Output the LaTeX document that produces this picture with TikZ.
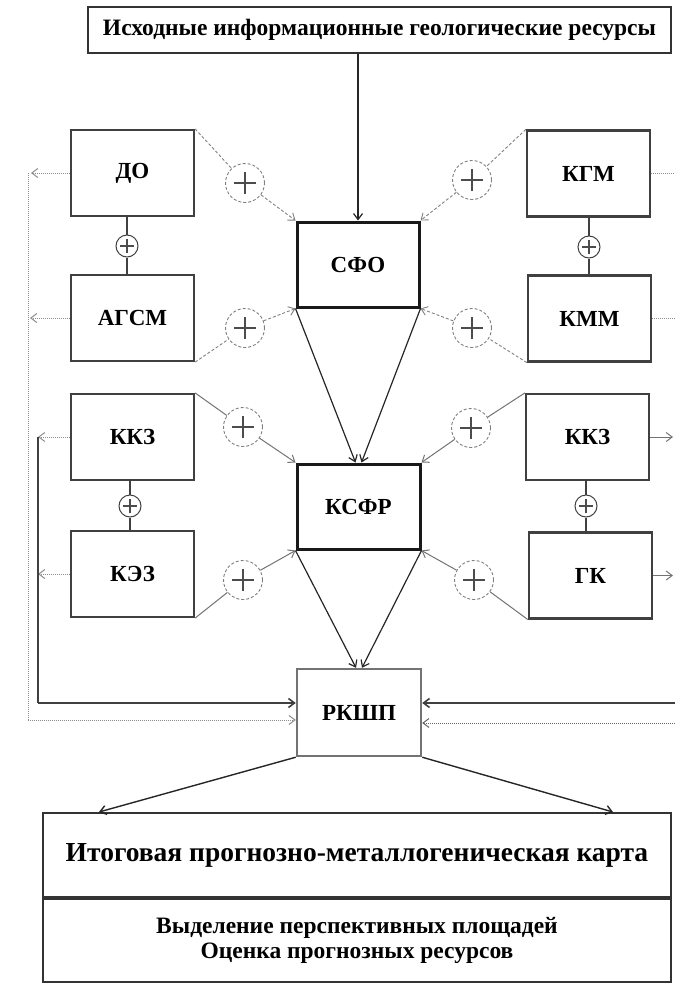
\documentclass[tikz,border=0pt]{standalone}
\usepackage{fontspec}
\setmainfont{Liberation Serif}
\usetikzlibrary{arrows.meta}

\tikzset{
  tip/.style={-{Straight Barb[length=6pt,width=9pt]}},
  blk/.style={draw=black!75, line width=2.2pt, minimum width=123pt, minimum height=86pt,
    inner sep=0pt, font=\bfseries\fontsize{23}{27}\selectfont},
  mainblk/.style={blk, draw=black!90, line width=3pt},
  wideblk/.style={draw=black!80, line width=1.8pt, inner sep=0pt},
  plusmark/.style={path picture={\draw[solid, black!70, line width=1.3pt]
    ([xshift=-#1]path picture bounding box.center) -- ([xshift=#1]path picture bounding box.center)
    ([yshift=-#1]path picture bounding box.center) -- ([yshift=#1]path picture bounding box.center);}},
  sumbig/.style={circle, draw=black!50, densely dashed, line width=0.9pt, minimum size=39pt,
    inner sep=0pt, plusmark=11pt},
  sumsmall/.style={circle, draw=black!75, line width=1pt, minimum size=22pt, inner sep=0pt,
    plusmark=7pt},
  link/.style={black!50, densely dashed, line width=0.9pt},
  linkb/.style={black!55, line width=1pt},
  bond/.style={black!75, line width=1.2pt},
  flow/.style={black!85, line width=1.2pt, tip},
  fbdot/.style={black!45, densely dotted, line width=1pt},
  fbline/.style={black!75, line width=1.6pt},
}

\begin{document}
\begin{tikzpicture}[x=1pt,y=-1pt]
\useasboundingbox (0,0) rectangle (675,983);

\node[wideblk, minimum width=583pt, minimum height=46pt, font=\bfseries\fontsize{23.5}{27}\selectfont] (src) at (379.5,30) {Исходные информационные геологические ресурсы};

\node[blk] (do) at (132.5,173) {ДО};
\node[blk] (agsm) at (132.5,318) {АГСМ};
\node[blk] (kkzl) at (132.5,437) {ККЗ};
\node[blk] (kez) at (132.5,574) {КЭЗ};
\node[blk] (kgm) at (588.5,173.5) {КГМ};
\node[blk] (kmm) at (589.5,318.5) {КММ};
\node[blk] (kkzr) at (587.5,437) {ККЗ};
\node[blk] (gk) at (590.5,575.5) {ГК};

\node[mainblk, minimum width=122pt, minimum height=85pt] (sfo) at (358,264.5) {СФО};
\node[mainblk, minimum height=85pt] (ksfr) at (358.5,506.5) {КСФР};
\node[blk, draw=black!55, line width=2.4pt, minimum width=124pt, minimum height=87pt] (rkshp) at (359,712.5) {РКШП};

\node[sumsmall] (p1) at (127,246) {};
\node[sumsmall] (p2) at (589,247) {};
\node[sumsmall] (p3) at (130,506) {};
\node[sumsmall] (p4) at (586,506) {};
\draw[bond] (p1) -- (p1 |- do.south);
\draw[bond] (p1) -- (p1 |- agsm.north);
\draw[bond] (p2) -- (p2 |- kgm.south);
\draw[bond] (p2) -- (p2 |- kmm.north);
\draw[bond] (p3) -- (p3 |- kkzl.south);
\draw[bond] (p3) -- (p3 |- kez.north);
\draw[bond] (p4) -- (p4 |- kkzr.south);
\draw[bond] (p4) -- (p4 |- gk.north);

\node[sumbig] (s1) at (245,183) {};
\node[sumbig] (s2) at (472,180) {};
\node[sumbig] (s3) at (245,328) {};
\node[sumbig] (s4) at (472,328) {};
\node[sumbig] (s5) at (243,427) {};
\node[sumbig] (s6) at (471,428) {};
\node[sumbig] (s7) at (243,580) {};
\node[sumbig] (s8) at (474,580) {};

\draw[link] (do.north east) -- (s1);
\draw[link,tip] (s1) -- (sfo.north west);
\draw[link] (kgm.north west) -- (s2);
\draw[link,tip] (s2) -- (sfo.north east);
\draw[link] (agsm.south east) -- (s3);
\draw[link,tip] (s3) -- (sfo.south west);
\draw[link] (kmm.south west) -- (s4);
\draw[link,tip] (s4) -- (sfo.south east);
\draw[linkb] (kkzl.north east) -- (s5);
\draw[linkb,tip] (s5) -- (ksfr.north west);
\draw[linkb] (kkzr.north west) -- (s6);
\draw[linkb,tip] (s6) -- (ksfr.north east);
\draw[linkb] (kez.south east) -- (s7);
\draw[linkb,tip] (s7) -- (ksfr.south west);
\draw[linkb] (gk.south west) -- (s8);
\draw[linkb,tip] (s8) -- (ksfr.south east);

\draw[flow] (sfo.north |- src.south) -- (sfo.north);
\draw[flow] (sfo.south west) -- ([xshift=-3pt]ksfr.north);
\draw[flow] (sfo.south east) -- ([xshift=3pt]ksfr.north);
\draw[flow] (ksfr.south west) -- ([xshift=-3pt]rkshp.north);
\draw[flow] (ksfr.south east) -- ([xshift=3pt]rkshp.north);

\coordinate (outerL) at (28,720);
\coordinate (innerL) at (38,703);
\coordinate (outerR) at (675,723);
\coordinate (innerR) at (675,703);
\coordinate (edgeR) at (673,0);

\draw[fbdot,tip] (do.west) -- ([xshift=3pt]do.west -| outerL);
\draw[fbdot,tip] (agsm.west) -- ([xshift=2pt]agsm.west -| outerL);
\draw[fbdot] (outerL |- do.west) -- (outerL);
\draw[fbdot,tip] (outerL) -- (outerL -| rkshp.west);
\draw[fbdot,tip] (kkzl.west) -- (kkzl.west -| innerL);
\draw[fbdot,tip] (kez.west) -- (kez.west -| innerL);
\draw[fbline] (innerL |- kkzl.west) -- (innerL);
\draw[fbline,tip] (innerL) -- (innerL -| rkshp.west);

\draw[fbdot] (kgm.east) -- (kgm.east -| outerR);
\draw[fbdot] (kmm.east) -- (kmm.east -| outerR);
\draw[linkb,tip] (kkzr.east) -- (kkzr.east -| edgeR);
\draw[linkb,tip] (gk.east) -- (gk.east -| edgeR);
\draw[fbline,tip] (innerR) -- (innerR -| rkshp.east);
\draw[fbdot,black!60,tip] (outerR) -- (outerR -| rkshp.east);

\node[wideblk, line width=2pt, minimum width=628pt, minimum height=84pt, font=\bfseries\fontsize{27.5}{32}\selectfont] (map) at (357,855) {Итоговая прогнозно-металлогеническая карта};
\node[wideblk, line width=2pt, minimum width=628pt, minimum height=83pt, anchor=north, align=center, font=\bfseries\fontsize{23.5}{25}\selectfont] (areas) at (map.south) {Выделение перспективных площадей\\Оценка прогнозных ресурсов};

\draw[flow, line width=1.4pt] (rkshp.south west) -- ([xshift=57pt]map.north west);
\draw[flow, line width=1.4pt] (rkshp.south east) -- ([xshift=-59pt]map.north east);
\end{tikzpicture}
\end{document}
